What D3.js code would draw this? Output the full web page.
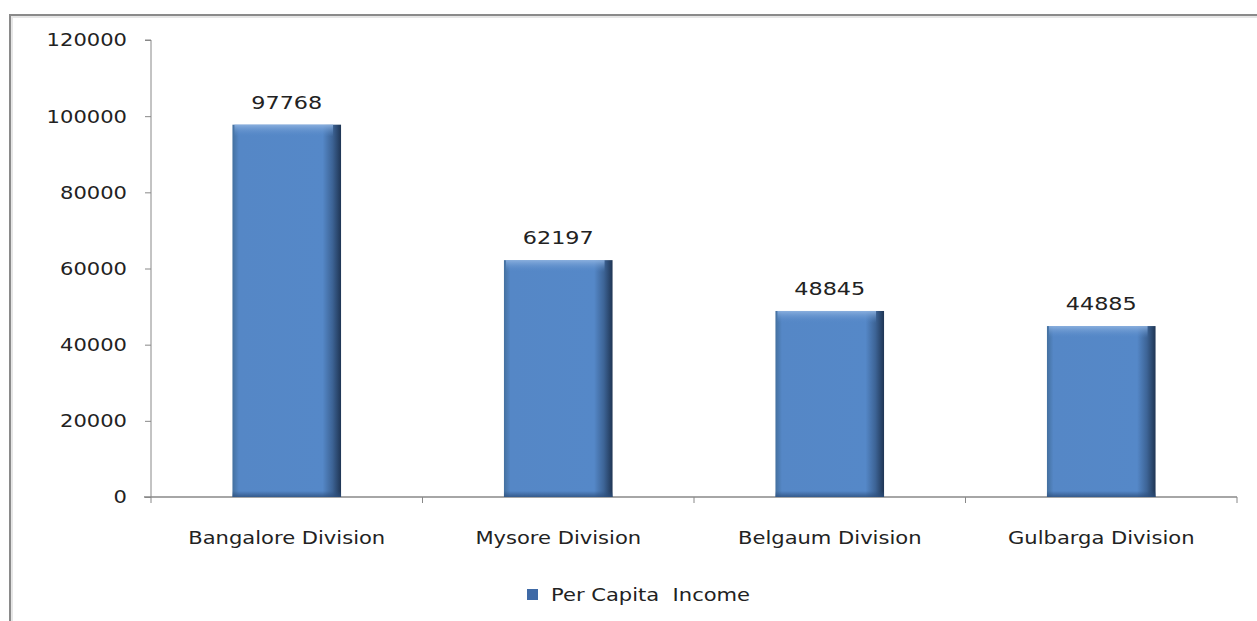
<!DOCTYPE html>
<html>
<head>
<meta charset="utf-8">
<script src="https://cdn.jsdelivr.net/npm/d3@7"></script>
<style>
  body { margin: 0; background: #fff; }
  svg { display: block; }
  text { font-family: "DejaVu Sans", "Open Sans", sans-serif; fill: #222; white-space: pre; }
</style>
</head>
<body>
<svg id="chart" width="1257" height="621"></svg>
<script>
const categories = ["Bangalore Division", "Mysore Division", "Belgaum Division", "Gulbarga Division"];
const values = [97768, 62197, 48845, 44885];
const yTicks = [0, 20000, 40000, 60000, 80000, 100000, 120000];
const seriesName = "Per Capita  Income";

const SX = 1.24; // horizontal stretch of the reference's text
const svg = d3.select("#chart");
const defs = svg.append("defs");

// frame
svg.append("line").attr("x1", 10).attr("x2", 1257).attr("y1", 15).attr("y2", 15)
  .attr("stroke", "#8a8a8a").attr("stroke-width", 2);
svg.append("line").attr("x1", 10).attr("x2", 1257).attr("y1", 17).attr("y2", 17)
  .attr("stroke", "#e6e6e6").attr("stroke-width", 2);
svg.append("line").attr("x1", 10).attr("x2", 10).attr("y1", 14).attr("y2", 621)
  .attr("stroke", "#8a8a8a").attr("stroke-width", 2);
svg.append("line").attr("x1", 12).attr("x2", 12).attr("y1", 16).attr("y2", 621)
  .attr("stroke", "#e6e6e6").attr("stroke-width", 2);

const x0 = 151, x1 = 1237, yTop = 40, yBot = 497;
const x = d3.scaleBand().domain(categories).range([x0, x1]).paddingInner(0.6).paddingOuter(0.3);
const y = d3.scaleLinear().domain([0, 120000]).range([yBot, yTop]);

// bar gradients
const hg = defs.append("linearGradient").attr("id", "hg").attr("x1", 0).attr("x2", 1).attr("y1", 0).attr("y2", 0);
hg.append("stop").attr("offset", "0%").attr("stop-color", "#44709f");
hg.append("stop").attr("offset", "6%").attr("stop-color", "#5587c6");
hg.append("stop").attr("offset", "83%").attr("stop-color", "#5588c8");
hg.append("stop").attr("offset", "92%").attr("stop-color", "#3d6496");
hg.append("stop").attr("offset", "100%").attr("stop-color", "#1f3554");
const vg = defs.append("linearGradient").attr("id", "vg").attr("x1", 0).attr("x2", 0).attr("y1", 0).attr("y2", 1);
vg.append("stop").attr("offset", "0%").attr("stop-color", "#8fb3e0").attr("stop-opacity", 0.9);
vg.append("stop").attr("offset", "100%").attr("stop-color", "#5588c8").attr("stop-opacity", 0);
const bg = defs.append("linearGradient").attr("id", "bg").attr("x1", 0).attr("x2", 0).attr("y1", 0).attr("y2", 1);
bg.append("stop").attr("offset", "0%").attr("stop-color", "#2d4f7d").attr("stop-opacity", 0);
bg.append("stop").attr("offset", "100%").attr("stop-color", "#2d4f7d").attr("stop-opacity", 0.8);

// y axis
const yAxis = d3.axisLeft(y).tickValues(yTicks).tickSize(6).tickPadding(0).tickFormat(d3.format("d"));
const gy = svg.append("g").attr("transform", `translate(${x0},0)`).call(yAxis);
gy.select(".domain").attr("stroke", "#888").attr("d", `M-6,${yTop}H0V${yBot}`);
gy.selectAll(".tick line").attr("stroke", "#888");
gy.selectAll(".tick text").attr("font-size", 17).attr("fill", "#222")
  .attr("x", null).attr("dy", "0.35em")
  .attr("transform", `translate(-24,0) scale(${SX},1)`);

// x axis
const boundaries = [0, 1, 2, 3, 4].map(i => x0 + i * (x1 - x0) / 4);
const gx = svg.append("g");
gx.append("line").attr("x1", x0 - 7).attr("x2", x1).attr("y1", yBot).attr("y2", yBot)
  .attr("stroke", "#888").attr("stroke-width", 1.5);
gx.selectAll(".bt").data(boundaries).join("line").attr("class", "bt")
  .attr("x1", d => d).attr("x2", d => d).attr("y1", yBot).attr("y2", yBot + 6)
  .attr("stroke", "#888");
gx.selectAll(".cl").data(categories).join("text").attr("class", "cl")
  .attr("transform", d => `translate(${x(d) + x.bandwidth() / 2},544) scale(${SX},1)`)
  .attr("text-anchor", "middle").attr("font-size", 17).text(d => d);

// bars
const bars = svg.append("g").selectAll("g").data(values).join("g");
bars.append("rect")
  .attr("x", (d, i) => x(categories[i])).attr("width", x.bandwidth())
  .attr("y", d => y(d)).attr("height", d => yBot - y(d))
  .attr("fill", "url(#hg)");
bars.append("rect")
  .attr("x", (d, i) => x(categories[i]) + 2).attr("width", x.bandwidth() - 10)
  .attr("y", d => y(d)).attr("height", 12)
  .attr("fill", "url(#vg)");
bars.append("rect")
  .attr("x", (d, i) => x(categories[i])).attr("width", x.bandwidth())
  .attr("y", yBot - 6).attr("height", 6)
  .attr("fill", "url(#bg)");
bars.append("text")
  .attr("transform", (d, i) => `translate(${x(categories[i]) + x.bandwidth() / 2},${y(d) - 16}) scale(${SX},1)`)
  .attr("text-anchor", "middle").attr("font-size", 18).attr("fill", "#222")
  .text(d => d);

// legend
const lg = svg.append("g");
lg.append("rect").attr("x", 527).attr("y", 589).attr("width", 11).attr("height", 11).attr("fill", "#3f6aa6");
lg.append("text").attr("transform", `translate(551,601) scale(${SX},1)`).attr("font-size", 17).text(seriesName);
</script>
</body>
</html>
